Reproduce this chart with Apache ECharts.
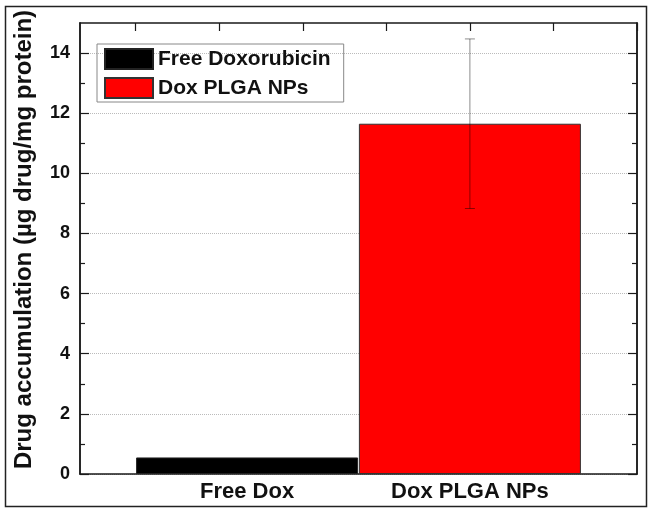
<!DOCTYPE html>
<html>
<head>
<meta charset="utf-8">
<script src="https://cdn.jsdelivr.net/npm/echarts@6/dist/echarts.min.js"></script>
<style>
  html, body { margin: 0; padding: 0; background: #fff; }
  #chart { width: 654px; height: 515px; }
</style>
</head>
<body>
<div id="chart"></div>
<script>
// data
const categories = ['Free Dox', 'Dox PLGA NPs'];
const categoryPos = [1, 2];
const legendNames = ['Free Doxorubicin', 'Dox PLGA NPs'];
const freeDox = [0.55];
const plgaNps = [11.65];
const plgaErr = [[8.83, 14.47]];   // low, high
const yMajor = [0, 2, 4, 6, 8, 10, 12, 14];
const yMinor = [1, 3, 5, 7, 9, 11, 13];
const topTicks = [0.5, 0.875, 1.25, 1.625, 2.0, 2.375, 2.75];

const font = 'Liberation Sans, Arial, sans-serif';
const axisCol = '#1a1a1a';

const chart = echarts.init(document.getElementById('chart'));

const yBase = (position, ticks, len, withLabels) => ({
  type: 'value',
  position: position,
  min: 0,
  max: 15,
  axisLine: { show: true, onZero: false, lineStyle: { color: axisCol, width: 1.5 } },
  axisTick: { show: true, inside: true, length: len, customValues: ticks, lineStyle: { color: axisCol, width: 1.2 } },
  axisLabel: withLabels ? {
    customValues: yMajor, margin: 10, color: '#111',
    fontFamily: font, fontWeight: 'bold', fontSize: 18
  } : { show: false },
  splitLine: { show: false }
});

const leftMajor = yBase('left', yMajor, 9, true);
leftMajor.name = 'Drug accumulation (µg drug/mg protein)';
leftMajor.nameLocation = 'middle';
leftMajor.nameGap = 44;
leftMajor.nameTextStyle = {
  fontFamily: font, fontWeight: 'bold', fontSize: 24, color: '#111',
  padding: [0, 0, 0, 18]
};
leftMajor.splitLine = { show: true, lineStyle: { color: '#bbb', type: 'dotted', width: 1 } };

chart.setOption({
  animation: false,
  backgroundColor: '#fff',
  grid: { left: 80, right: 17, top: 23, bottom: 41 },
  legend: {
    orient: 'vertical',
    left: 97, top: 44,
    padding: [4, 13, 3, 7],
    borderColor: '#888', borderWidth: 1,
    itemWidth: 48, itemHeight: 20, itemGap: 7,
    icon: 'rect',
    textStyle: { fontFamily: font, fontWeight: 'bold', fontSize: 21, color: '#111' },
    data: legendNames
  },
  xAxis: [
    {
      type: 'value', position: 'bottom', min: 0.25, max: 2.75,
      axisLine: { show: true, onZero: false, lineStyle: { color: axisCol, width: 1.5 } },
      axisTick: { show: false },
      axisLabel: {
        customValues: categoryPos, margin: 7, color: '#111',
        fontFamily: font, fontWeight: 'bold', fontSize: 22,
        formatter: v => categories[categoryPos.indexOf(v)] || ''
      },
      splitLine: { show: false }
    },
    {
      type: 'value', position: 'top', min: 0.25, max: 2.75,
      axisLine: { show: true, onZero: false, lineStyle: { color: axisCol, width: 1.5 } },
      axisTick: { show: true, inside: true, length: 8, customValues: topTicks, lineStyle: { color: axisCol, width: 1.2 } },
      axisLabel: { show: false },
      splitLine: { show: false }
    }
  ],
  yAxis: [
    leftMajor,
    yBase('left', yMinor, 5, false),
    yBase('right', yMajor, 9, false),
    yBase('right', yMinor, 5, false)
  ],
  series: [
    {
      name: legendNames[0], type: 'bar', barWidth: 222, barGap: '-100%',
      itemStyle: { color: '#000', borderColor: '#222', borderWidth: 1 },
      data: freeDox.map(v => [categoryPos[0], v])
    },
    {
      name: legendNames[1], type: 'bar', barWidth: 222, barGap: '-100%',
      itemStyle: { color: '#ff0000', borderColor: '#333', borderWidth: 1 },
      data: plgaNps.map(v => [categoryPos[1], v])
    },
    {
      type: 'custom', z: 10, silent: true,
      data: plgaErr.map(e => [categoryPos[1], e[0], e[1]]),
      renderItem: (params, api) => {
        const lo = api.coord([api.value(0), api.value(1)]);
        const hi = api.coord([api.value(0), api.value(2)]);
        const cap = 5;
        const style = { stroke: 'rgba(0,0,0,0.45)', lineWidth: 1 };
        return {
          type: 'group',
          children: [
            { type: 'line', shape: { x1: lo[0], y1: lo[1], x2: hi[0], y2: hi[1] }, style: style },
            { type: 'line', shape: { x1: hi[0] - cap, y1: hi[1], x2: hi[0] + cap, y2: hi[1] }, style: style },
            { type: 'line', shape: { x1: lo[0] - cap, y1: lo[1], x2: lo[0] + cap, y2: lo[1] }, style: style }
          ]
        };
      }
    }
  ],
  graphic: [
    {
      type: 'rect', silent: true, z: -1,
      shape: { x: 5.5, y: 6.5, width: 641, height: 500 },
      style: { fill: 'none', stroke: '#222', lineWidth: 1.5 }
    }
  ]
});
</script>
</body>
</html>
